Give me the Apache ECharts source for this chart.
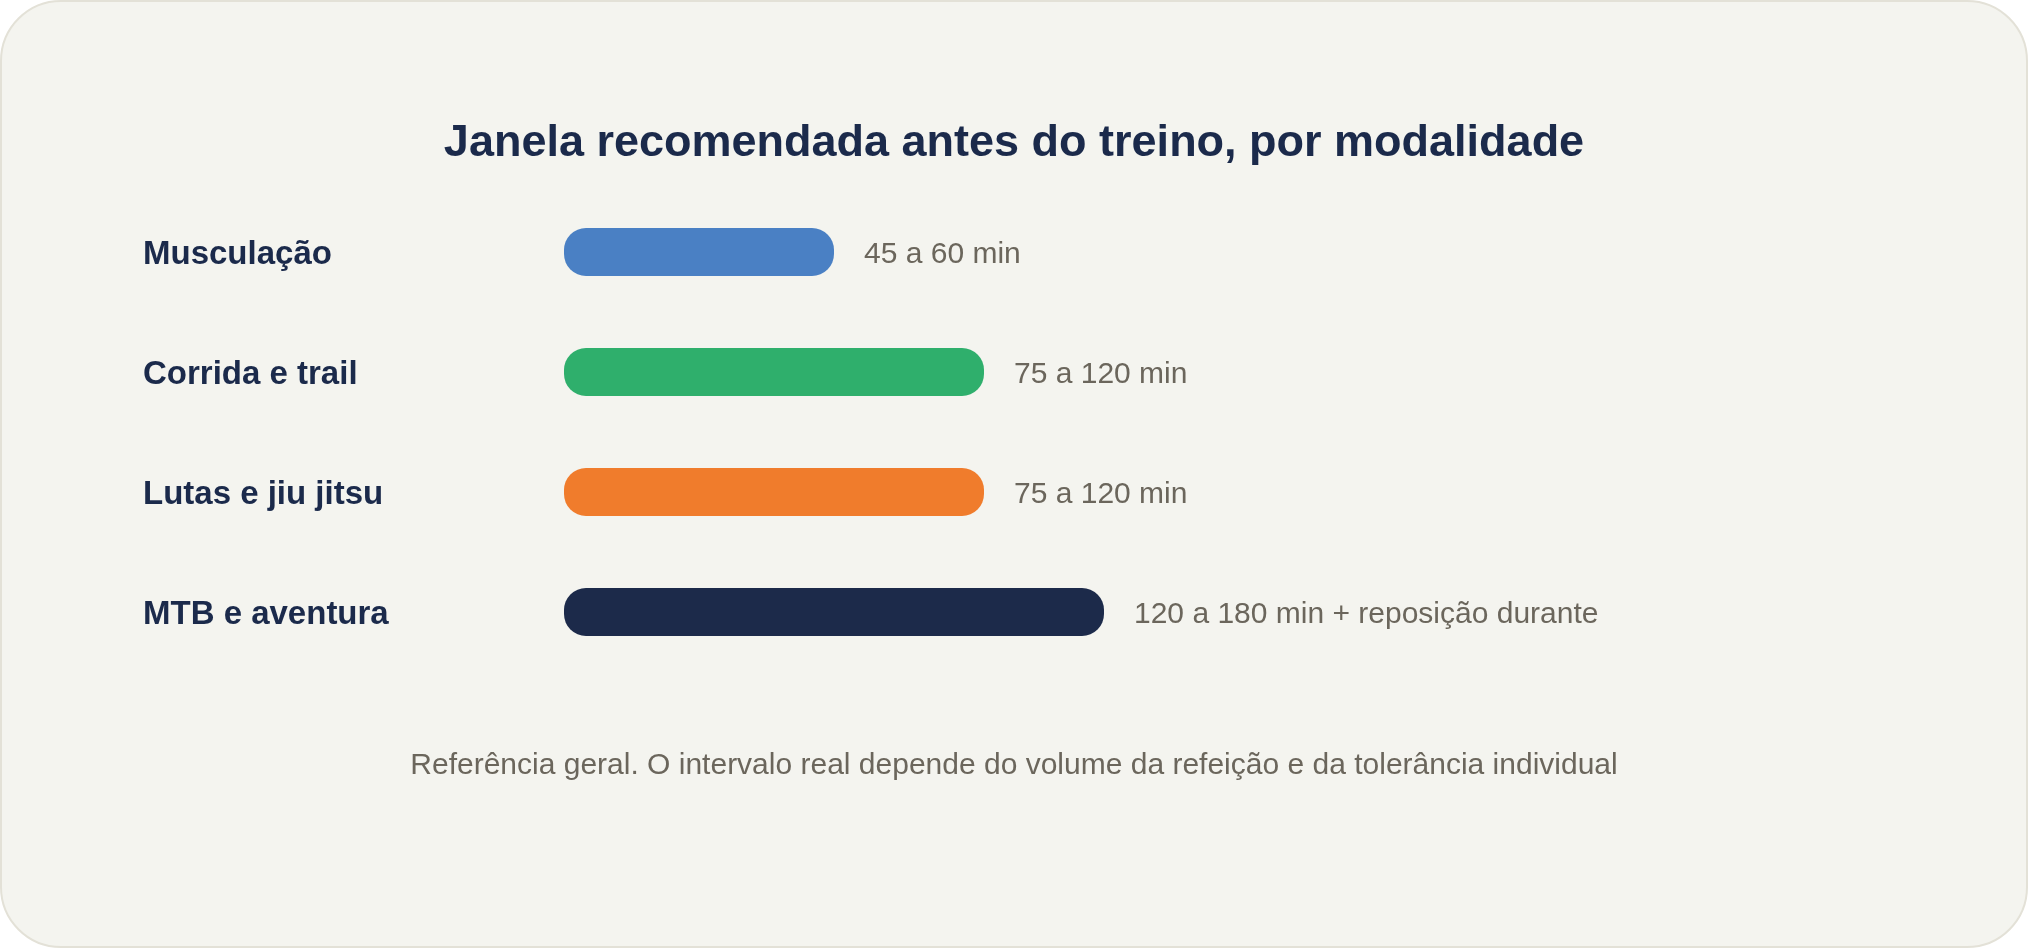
<!DOCTYPE html>
<html>
<head>
<meta charset="utf-8">
<script src="https://cdn.jsdelivr.net/npm/echarts@6/dist/echarts.min.js"></script>
<style>
  html, body { margin: 0; padding: 0; background: #ffffff; }
  #main { width: 2028px; height: 948px; }
</style>
</head>
<body>
<div id="main"></div>
<script>
// categorias (de cima para baixo)
var modalidades = ['Musculação', 'Corrida e trail', 'Lutas e jiu jitsu', 'MTB e aventura'];
// comprimento relativo das barras
var valores = [45, 70, 70, 90];
// texto ao lado de cada barra
var janelas = ['45 a 60 min', '75 a 120 min', '75 a 120 min', '120 a 180 min + reposição durante'];
var cores = ['#4a80c4', '#2faf6c', '#f07c2c', '#1c2a4a'];

var titulo = 'Janela recomendada antes do treino, por modalidade';
var nota = 'Referência geral. O intervalo real depende do volume da refeição e da tolerância individual';

window.onload = function(){
    var myChart = echarts.init(document.getElementById('main'));
    var fonte = '"Liberation Sans", Arial, Helvetica, sans-serif';

    var dados = [];
    for (var i = 0; i < valores.length; i++) {
        dados.push({ value: valores[i], itemStyle: { color: cores[i] } });
    }

    var option = {
        animation: false,
        graphic: [
            {
                type: 'rect',
                z: -10,
                shape: { x: 1, y: 1, width: 2026, height: 946, r: 60 },
                style: { fill: '#f4f4ef', stroke: '#e3e1d7', lineWidth: 2 }
            }
        ],
        title: [
            {
                text: titulo,
                left: 'center',
                top: 116,
                textStyle: { fontFamily: fonte, fontSize: 45, fontWeight: 'bold', color: '#1b2a4b' }
            },
            {
                text: nota,
                left: 'center',
                top: 746,
                textStyle: { fontFamily: fonte, fontSize: 30, fontWeight: 'normal', color: '#6b665c' }
            }
        ],
        grid: { left: 564, right: 264, top: 192, bottom: 276, containLabel: false },
        xAxis: {
            type: 'value',
            min: 0,
            max: 200,
            show: false
        },
        yAxis: {
            type: 'category',
            inverse: true,
            data: modalidades,
            axisLine: { show: false },
            axisTick: { show: false },
            splitLine: { show: false },
            axisLabel: {
                align: 'left',
                margin: 421,
                verticalAlign: 'top',
                lineHeight: 6,
                fontFamily: fonte,
                fontSize: 33,
                fontWeight: 'bold',
                color: '#1b2a4b'
            }
        },
        series: [
            {
                type: 'bar',
                data: dados,
                barWidth: 48,
                itemStyle: { borderRadius: 22 },
                label: {
                    show: true,
                    position: 'right',
                    distance: 30,
                    offset: [0, 3],
                    fontFamily: fonte,
                    fontSize: 30,
                    color: '#6b665c',
                    formatter: function(p){ return janelas[p.dataIndex]; }
                }
            }
        ]
    };
    myChart.setOption(option);
};
</script>
</body>
</html>
